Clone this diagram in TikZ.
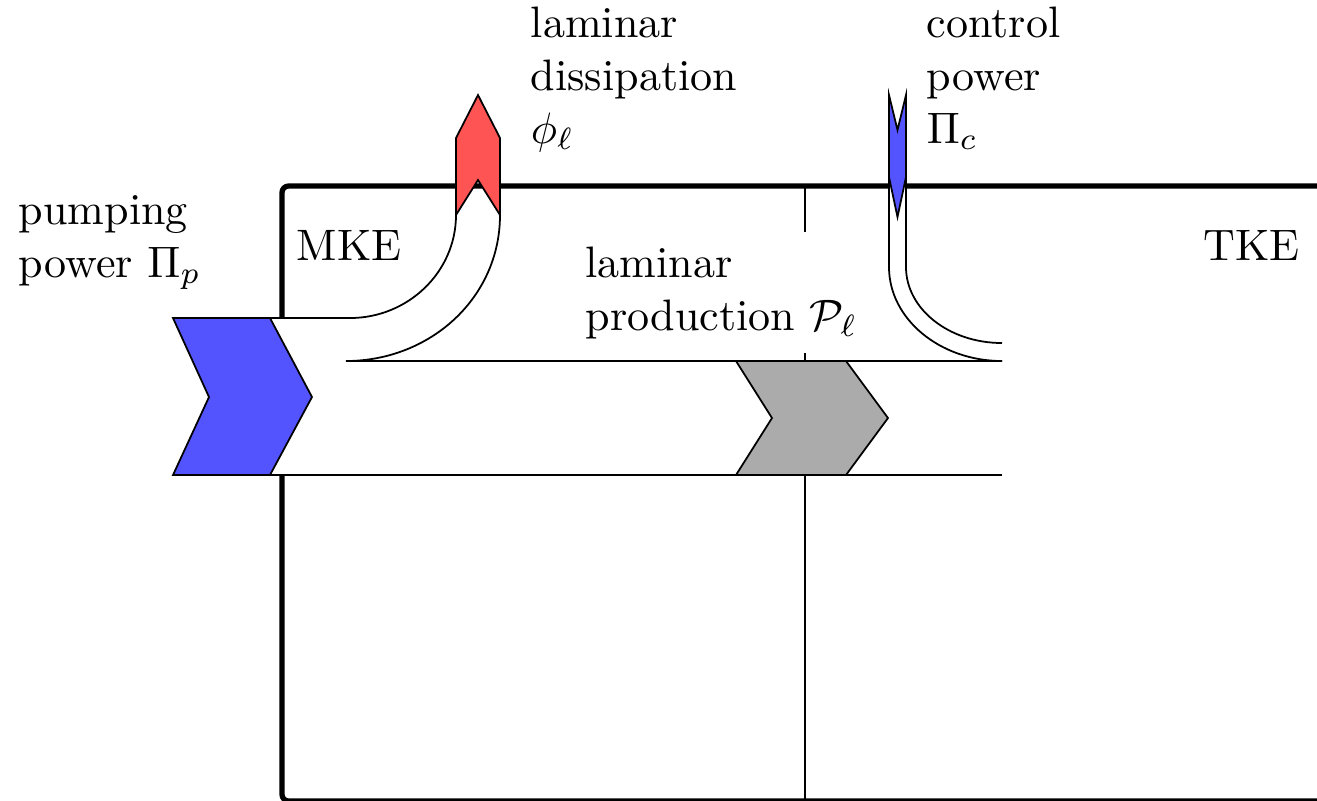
\documentclass[tikz,border=0pt]{standalone}
\usepackage{tikz}
\usetikzlibrary{positioning}

\begin{document}
\begin{tikzpicture}[x=0.227pt, y=-0.227pt]
  \tikzstyle{wall}=[line width=1.2pt, rounded corners=1.5pt]
  \tikzstyle{edge}=[thin]
  \tikzstyle{chevron}=[draw=black, thin]
  \tikzstyle{lbl}=[inner sep=0pt, align=left, anchor=base west]
  \useasboundingbox (0,0) rectangle (1317,800);

  % divider between the two energy boxes
  \draw (805,186) -- (805,800);

  % box walls
  \draw[wall] (282,318) -- (282,186) -- (1317,186);
  \draw[wall] (282,475) -- (282,801) -- (1317,801);

  % main flow band with the dissipation branch
  \fill[white] (270,318) -- (350,318) .. controls (408,318) and (456,272) .. (456,215)
    -- (500,215) .. controls (500,298) and (430,361) .. (346,361)
    -- (1002,361) -- (1002,475) -- (270,475) -- cycle;
  \draw[edge] (270,318) -- (350,318) .. controls (408,318) and (456,272) .. (456,215);
  \draw[edge] (500,215) .. controls (500,298) and (430,361) .. (346,361) -- (1002,361);
  \draw[edge] (270,475) -- (1002,475);

  % control power tube
  \fill[white] (889,177) -- (889,267) .. controls (889,319) and (940,361) .. (1002,361)
    -- (1002,343) .. controls (949,343) and (906,309) .. (906,267) -- (906,177) -- cycle;
  \draw[edge] (889,177) -- (889,267) .. controls (889,319) and (940,361) .. (1002,361);
  \draw[edge] (906,177) -- (906,267) .. controls (906,309) and (949,343) .. (1002,343);

  % arrow heads
  \draw[chevron, fill=blue!67] (173,318) -- (270,318) -- (312,397) -- (270,475) -- (173,475) -- (209,397) -- cycle;
  \draw[chevron, fill=red!67] (456,215) -- (478,180) -- (500,215) -- (500,138) -- (478,95) -- (456,138) -- cycle;
  \draw[chevron, fill=black!33] (736,361) -- (846,361) -- (888,418) -- (846,475) -- (736,475) -- (772,418) -- cycle;
  \draw[chevron, fill=blue!67] (889,95) -- (897.5,130) -- (906,95) -- (906,177) -- (897.5,217) -- (889,177) -- cycle;

  % labels
  \node[lbl] (pump) at (18,277) {pumping\\power $\Pi_p$};
  \node[lbl] (mke) at (296,260) {MKE};
  \node[lbl] (tke) at (1203,260) {TKE};
  \node[lbl] (diss) at (530,143) {laminar\\dissipation\\$\phi_\ell$};
  \node[lbl] (ctrl) at (926,143) {control\\power\\$\Pi_c$};
  \node[lbl, inner sep=.3333em, fill=white] (prod) at (570,330) {laminar\\production $\mathcal{P}_\ell$};
\end{tikzpicture}
\end{document}
